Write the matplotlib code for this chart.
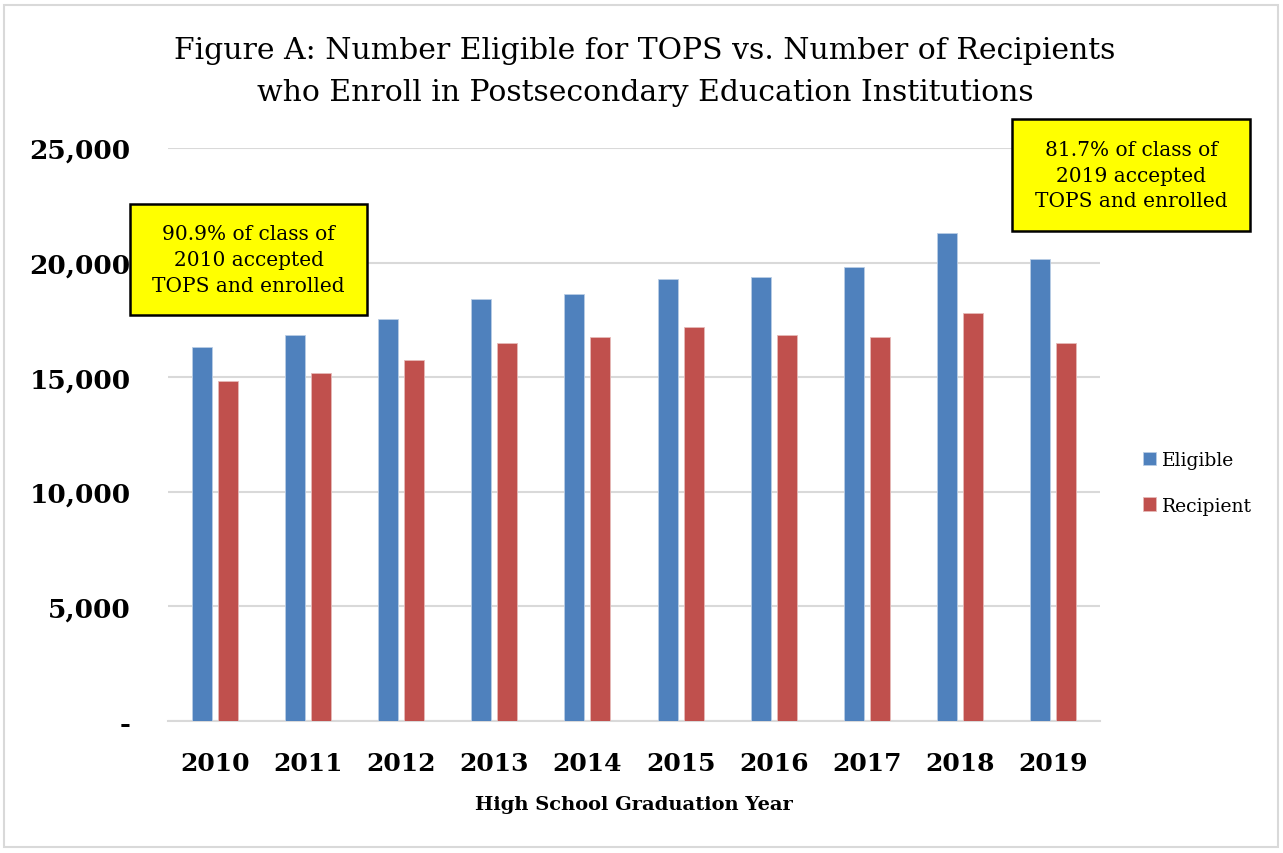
import matplotlib.pyplot as plt
import numpy as np
from matplotlib.patches import Rectangle
from matplotlib.ticker import FuncFormatter

# Values
years = ['2010', '2011', '2012', '2013', '2014', '2015', '2016', '2017', '2018', '2019']
eligible = [16300, 16820, 17520, 18400, 18640, 19270, 19360, 19800, 21290, 20150]
recipient = [14850, 15160, 15750, 16470, 16740, 17170, 16820, 16740, 17790, 16470]
yticks = [0, 5000, 10000, 15000, 20000, 25000]

blue = '#4F81BD'
red = '#C0504D'
grid = '#D9D9D9'

plt.rcParams['font.family'] = ['DejaVu Serif']

fig = plt.figure(figsize=(12.83, 8.54), dpi=100)
ax = fig.add_axes([168 / 1283, 1 - 721.7 / 854, 932 / 1283, 572.7 / 854])

x = np.arange(len(years))
w = 0.215
ax.bar(x - 0.139, eligible, w, color=blue, edgecolor='#B9CDE5', linewidth=0.6, label='Eligible', zorder=3)
ax.bar(x + 0.139, recipient, w, color=red, edgecolor='#E6B9B8', linewidth=0.6, label='Recipient', zorder=3)

ax.set_xlim(-0.5, len(years) - 0.5)
ax.set_ylim(0, 25000)
ax.set_yticks(yticks)
ax.yaxis.set_major_formatter(FuncFormatter(lambda v, p: '-' if v == 0 else f'{int(v):,}'))
ax.set_xticks(x)
ax.set_xticklabels(years)
ax.grid(axis='y', color=grid, linewidth=1.5, zorder=0)
for s in ['top', 'right', 'left']:
    ax.spines[s].set_visible(False)
ax.spines['bottom'].set_color(grid)
ax.spines['bottom'].set_linewidth(1.5)
ax.tick_params(axis='both', length=0)
ax.tick_params(axis='y', pad=27, labelsize=19)
ax.tick_params(axis='x', pad=22, labelsize=18)
for lbl in ax.get_xticklabels() + ax.get_yticklabels():
    lbl.set_fontweight('bold')
ax.set_xlabel('High School Graduation Year', fontsize=14, fontweight='bold', labelpad=14)

fig.text(645 / 1283, 1 - 72 / 854,
         'Figure A: Number Eligible for TOPS vs. Number of Recipients\n'
         'who Enroll in Postsecondary Education Institutions',
         ha='center', va='center', fontsize=21.5, linespacing=1.6)

fig.legend(loc='center left', bbox_to_anchor=(1126 / 1283, 1 - 484 / 854), frameon=False,
           fontsize=13.5, handlelength=0.7, handleheight=0.7, handletextpad=0.3, labelspacing=1.45)

# callout boxes
def callout(x0, y0, x1, y1, text):
    fig.patches.append(Rectangle((x0 / 1283, 1 - y1 / 854), (x1 - x0) / 1283, (y1 - y0) / 854,
                                 transform=fig.transFigure, facecolor='#FFFF00',
                                 edgecolor='black', linewidth=1.8, zorder=5))
    fig.text((x0 + x1) / 2 / 1283, 1 - (y0 + y1) / 2 / 854, text, ha='center', va='center',
             fontsize=14.5, linespacing=1.45, zorder=6)

callout(130, 205, 367, 316, '90.9% of class of\n2010 accepted\nTOPS and enrolled')
callout(1012, 120, 1250, 232, '81.7% of class of\n2019 accepted\nTOPS and enrolled')

# outer frame
fig.patches.append(Rectangle((4 / 1283, 6 / 854), 1274 / 1283, 842 / 854, transform=fig.transFigure,
                             facecolor='none', edgecolor=grid, linewidth=1.5))

fig.savefig('out.png', dpi=100)
